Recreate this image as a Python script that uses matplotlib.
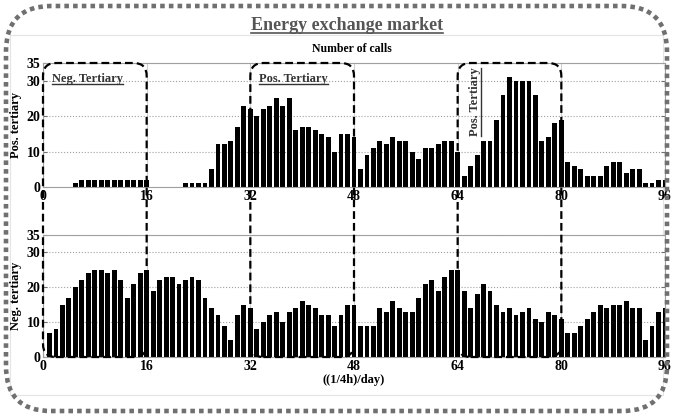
import numpy as np
import matplotlib.pyplot as plt
from matplotlib.patches import FancyBboxPatch, Rectangle
from matplotlib.lines import Line2D
from matplotlib.transforms import IdentityTransform

plt.rcParams['font.family'] = ['Liberation Serif', 'DejaVu Serif']
plt.rcParams['font.weight'] = 'bold'
plt.rcParams['axes.labelweight'] = 'bold'

# quarter-hour slots of the day
slots = np.arange(1, 97)

pos_tertiary = [0, 0, 0, 0, 1, 2, 2, 2, 2, 2, 2, 2, 2, 2, 2, 2,
                0, 0, 0, 0, 0, 1, 1, 1, 1, 5, 12, 12, 13, 17, 23, 22,
                20, 22, 23, 25, 23, 25, 16, 17, 17, 16, 15, 14, 10, 15, 15, 14,
                5, 9, 11, 13, 12, 14, 13, 13, 10, 8, 11, 11, 12, 13, 13, 10,
                3, 6, 9, 13, 13, 19, 26, 31, 30, 30, 30, 26, 13, 14, 18, 19,
                7, 6, 5, 3, 3, 3, 6, 7, 7, 4, 5, 5, 1, 1, 2, 2]

neg_tertiary = [7, 8, 15, 17, 20, 22, 24, 25, 25, 24, 25, 22, 17, 21, 24, 25,
                19, 22, 23, 23, 21, 22, 23, 22, 17, 14, 12, 9, 5, 12, 15, 14,
                8, 10, 12, 13, 10, 13, 14, 16, 15, 14, 12, 12, 9, 12, 15, 15,
                9, 9, 9, 14, 13, 16, 14, 13, 13, 17, 21, 22, 19, 23, 25, 25,
                19, 14, 18, 21, 19, 15, 13, 14, 12, 13, 14, 11, 10, 13, 12, 11,
                7, 7, 9, 11, 13, 15, 14, 15, 15, 16, 14, 14, 5, 9, 13, 14]

xticks = [0, 16, 32, 48, 64, 80, 96]
yticks = [0, 10, 20, 30, 35]

win_start = [0, 32, 64]
win_end = [16, 48, 80]
win_label = ['Neg. Tertiary', 'Pos. Tertiary', 'Pos. Tertiary']

W, H = 673, 417
fig = plt.figure(figsize=(W / 100, H / 100), dpi=100)
ax1 = fig.add_axes([43 / W, 1 - 187 / H, 622 / W, 124 / H])
ax2 = fig.add_axes([43 / W, 1 - 357 / H, 622 / W, 122 / H])

for ax, vals, lab in [(ax1, pos_tertiary, 'Pos. tertiary'),
                      (ax2, neg_tertiary, 'Neg. tertiary')]:
    ax.bar(slots, vals, width=0.75, color='black', zorder=2)
    ax.set_xlim(0, 96)
    ax.set_ylim(0, 35)
    ax.set_xticks(xticks)
    ax.set_yticks(yticks)
    ax.yaxis.grid(True, color='#a0a0a0', linestyle=':', lw=0.8)
    ax.xaxis.grid(True, color='#d0d0d0', lw=0.8)
    ax.set_axisbelow(True)
    for s in ax.spines.values():
        s.set_color('#a0a0a0')
    ax.tick_params(direction='in', length=3, color='#707070', labelsize=10,
                   right=True, pad=2)
    ax.set_ylabel(lab, fontsize=9)
    ax.yaxis.set_label_coords(-0.034, 0.5)

ax2.set_xlabel('((1/4h)/day)', fontsize=9, labelpad=1)

# frame decorations
outer = FancyBboxPatch((6, 6), W - 12, H - 12,
                       boxstyle='round,pad=0,rounding_size=45',
                       transform=IdentityTransform(), fill=False,
                       ec='#707070', lw=3.3, ls=(0, (1, 0.9)), zorder=1)
fig.add_artist(outer)
fig.add_artist(Rectangle((10, 22), W - 20, 360, transform=IdentityTransform(),
                         fill=False, ec='#e4e4e4', lw=0.8, zorder=0))

title = fig.text(347 / W, 1 - 25 / H, 'Energy exchange market', ha='center',
                 va='center', fontsize=13, color='#555555')
fig.text(352 / W, 1 - 49 / H, 'Number of calls', ha='center', va='center',
         fontsize=8.5)

labels = []
for i in range(len(win_start)):
    x0, ytop = ax1.transData.transform((win_start[i], 35))
    x1, _ = ax1.transData.transform((win_end[i], 35))
    ybot = ax2.transData.transform((win_start[i], 0))[1]
    box = FancyBboxPatch((x0, ybot), x1 - x0, ytop - ybot,
                         boxstyle='round,pad=0,rounding_size=13',
                         transform=IdentityTransform(), fill=False,
                         ec='black', lw=1.6, ls=(0, (3.5, 1.8)), zorder=5)
    fig.add_artist(box)
    if i < 2:
        t = ax1.text(win_start[i] + 1.4, 30.5, win_label[i], ha='left',
                     va='center', fontsize=9, color='#333333', zorder=6)
    else:
        t = ax1.text(win_start[i] + 2.6, 33.7, win_label[i], ha='center',
                     va='top', rotation=90, fontsize=9, color='#333333',
                     zorder=6)
    labels.append((t, i == 2))

# underlines
fig.canvas.draw()
r = fig.canvas.get_renderer()
for t, vertical in labels + [(title, False)]:
    bb = t.get_window_extent(r)
    col = t.get_color()
    if vertical:
        ln = Line2D([bb.x1, bb.x1], [bb.y0, bb.y1], color=col, lw=1.0,
                    transform=IdentityTransform())
    else:
        ln = Line2D([bb.x0, bb.x1], [bb.y0 + 0.5, bb.y0 + 0.5], color=col,
                    lw=1.2 if t is title else 1.0,
                    transform=IdentityTransform())
    fig.add_artist(ln)

fig.savefig('out.png', dpi=100)
